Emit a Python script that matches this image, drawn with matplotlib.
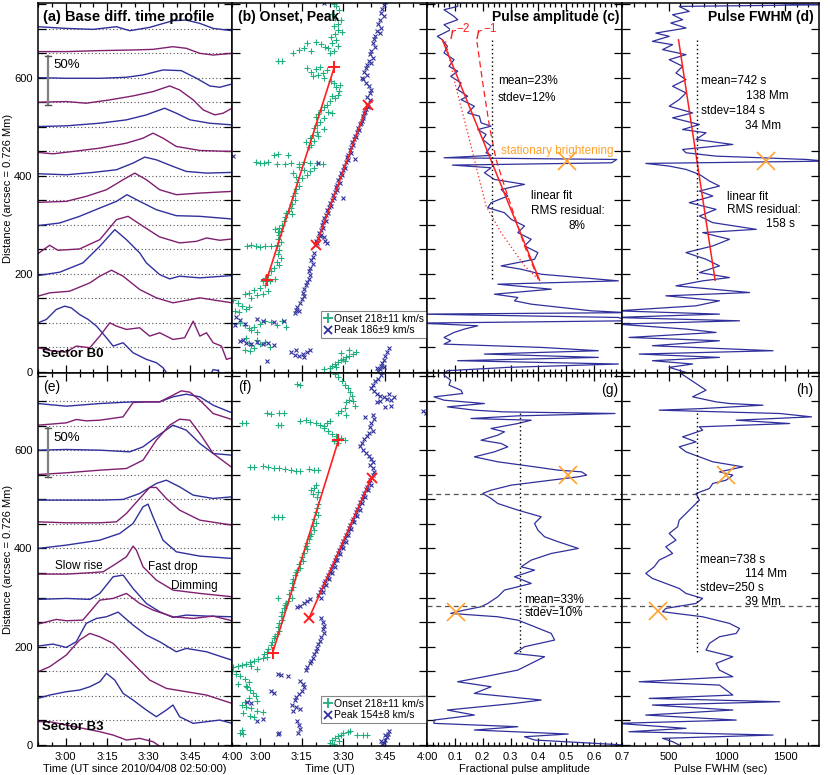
import numpy as np
import matplotlib
matplotlib.use("Agg")
import matplotlib.pyplot as plt
from matplotlib.ticker import MultipleLocator, FixedLocator, FuncFormatter
from matplotlib.lines import Line2D

plt.rcParams['font.family'] = ['Liberation Sans', 'DejaVu Sans']

BLUE = "#30309c"
PURPLE = "#801e70"
GREEN = "#1fae7c"
ORANGE = "#ffa22e"
RED = "#ff1e1e"

# ---- (a) base difference profiles, sector B0: (minutes since 02:50, distance)
a_b700 = [(0, 703.7), (10.2, 700.3), (19.9, 698.3), (28.3, 703.7), (33.1, 695.6), (40.3, 702.4),
          (48.7, 716), (53.5, 717.3), (58.4, 710.5), (63.2, 700.3), (70, 695.6)]
a_p650 = [(0, 653), (10.2, 653), (22.3, 655), (34.3, 656.3), (41.5, 657.6), (48.7, 663),
          (53.5, 659.7), (58.4, 649.5), (63.2, 646), (70, 649.5)]
a_b600 = [(0, 600), (10.2, 598.6), (22.3, 598.6), (31.9, 600.7), (37.9, 605.4), (45.1, 615.6),
          (51.7, 614.2), (57.2, 598.6), (62, 583), (65.6, 580.3), (70, 587)]
a_p550 = [(0, 549.8), (10.2, 551.2), (17.4, 547.8), (25.9, 554.6), (34.3, 562.7), (41.5, 571.5),
          (47.5, 583), (51.1, 574.9), (56, 554.6), (59.6, 534.2), (63.8, 524), (66.8, 527.5), (70, 537.6)]
a_b500 = [(0, 500.3), (10.2, 501.7), (22.3, 507.1), (31.9, 513.9), (39.1, 524), (45.7, 537.6),
          (49.9, 527.5), (54.8, 514), (62, 507), (70, 503.7)]
a_p450 = [(0, 447.5), (5.4, 444.7), (12.6, 449.5), (22.3, 456.3), (31.9, 466.4), (37.9, 476.6),
          (41.5, 486.8), (45.1, 476.6), (49.9, 459.7), (58.4, 451.5), (70, 449.5)]
a_b400 = [(0, 404.1), (10.2, 402), (19.9, 406.8), (28.3, 412.2), (34.3, 425.8), (38.5, 438),
          (42.7, 432.5), (48.7, 419), (53.5, 408.8), (60.8, 405.4), (70, 406.8)]
a_p350 = [(0, 345.8), (10.2, 347.8), (17.4, 358), (24.7, 371.5), (30.7, 391.9), (34.9, 405.4),
          (39.1, 391.9), (43.9, 371.5), (49.9, 361.4), (58.4, 364.7), (70, 368.1)]
a_b300 = [(0, 298.3), (7.8, 303.7), (15, 317.3), (22.3, 334.2), (28.3, 347.8), (32.1, 361.4),
          (36.7, 347.8), (42.7, 330.8), (49.9, 318.6), (58.4, 317.3), (70, 311.9)]
a_p250 = [(0, 241.4), (4.2, 258.3), (7.2, 248.1), (15, 250.8), (22.3, 269.8), (28.3, 310.5),
          (32.5, 317.3), (37.9, 297), (43.9, 275.3), (51.1, 263.1), (57.2, 266.4), (60.8, 273.2),
          (65.6, 268.5), (70, 271.2)]
a_b200 = [(0, 196.6), (7.8, 203.4), (16.2, 222.4), (22.3, 256.3), (27.7, 290.2), (31.9, 269.8),
          (36.7, 242.7), (39.1, 222.4), (43.9, 198.6), (47.5, 189.8), (51.1, 195.3), (58.4, 191.9), (70, 196.6)]
a_p150 = [(0, 154.6), (4.2, 161.4), (11.4, 164.7), (18.7, 181.7), (22.3, 195.3), (26.5, 207.5),
          (30.7, 195.3), (36.7, 168.1), (42.7, 151.2), (48.7, 141), (58.4, 151.2), (70, 141)]
a_b100 = [(0, 100.3), (3, 107.1), (6.6, 127.5), (9.6, 134.2), (12, 130.8), (15, 117.3), (18.1, 107.1),
          (21.1, 93.6), (24.7, 69.8), (27.1, 52.9), (30.7, 59.7), (34.3, 39.3), (39.1, 25.8), (42.7, 19),
          (45.1, 8.8), (48.7, -20), (60.8, -20), (63.2, 5), (65, 3), (66.8, -20)]
a_p50 = [(0, 49.5), (5.4, 42.7), (10.2, 40.7), (13.8, 52.9), (18.7, 49.5), (22.3, 73.2), (25.9, 100.3),
         (28.3, 93.6), (31.9, 86.8), (36.7, 90.2), (40.3, 73.2), (43.9, 80), (48.7, 66.4), (52.9, 69.8),
         (56, 103.7), (58.4, 73.2), (60.8, 80), (63.2, 59.7), (66.2, 52.9), (68, 25.8), (70, 29.2)]

# ---- (e) base difference profiles, sector B3
e_b700 = [(0, 694.9), (10.2, 689.5), (22.3, 694.9), (34.3, 698.3), (43.9, 698.3), (48.7, 708.5),
          (53.5, 713.9), (58.4, 708.5), (63.2, 691.5), (70, 675.9)]
e_p650 = [(0, 650.8), (10.2, 655.6), (13.8, 662.4), (17.4, 659.7), (22.3, 661), (30.7, 667.8),
          (34.3, 696.9), (39.1, 698.3), (43.9, 698.3), (48.7, 711.9), (51.7, 720.7), (54.8, 718),
          (58.4, 701.7), (63.2, 674.6), (70, 662.4)]
e_b600 = [(0, 600), (10.2, 601.4), (22.3, 600), (33.1, 596.6), (37.9, 606.8), (42.7, 627.1),
          (48.7, 650.8), (53.5, 640.7), (58.4, 613.6), (63.2, 593.2), (70, 589.8)]
e_p550 = [(0, 550.5), (10.2, 553.9), (22.3, 559.3), (31.9, 562.7), (37.9, 579.7), (42.7, 620.3),
          (47.5, 650.8), (51.1, 663.1), (54.8, 661), (58.4, 633.9), (63.2, 593.2), (70, 564.7)]
e_b500 = [(0, 498.3), (10.2, 498.3), (22.3, 498.3), (30.7, 499.7), (36.7, 511.9), (42.7, 532.2),
          (46.3, 539), (51.1, 525.4), (56, 508.5), (63.2, 501.7), (70, 505.1)]
e_p450 = [(0, 454.2), (10.2, 452.2), (22.3, 452.2), (28.3, 454.2), (31.9, 471.2), (36.7, 501.7),
          (40.3, 524.1), (42.7, 524.1), (46.3, 501.7), (51.1, 478), (58.4, 457.6), (70, 447.5)]
e_b400 = [(0, 400), (10.2, 406.8), (22.3, 416.9), (29.5, 430.5), (34.3, 450.8), (37.9, 484.7),
          (39.7, 490.2), (41.5, 464.4), (45.1, 416.9), (49.9, 393.2), (58.4, 384.4), (70, 379.7)]
e_p350 = [(0, 347.8), (10.2, 347.8), (18.7, 350.5), (23.5, 352.5), (28.3, 369.5), (31.9, 383.1),
          (34.3, 404.7), (35.5, 396.6), (37.9, 362.7), (42.7, 335.6), (48.7, 315.3), (58.4, 308.5), (70, 301.7)]
e_b300 = [(0, 296.3), (10.2, 298.3), (18.7, 296.3), (22.3, 308.5), (27.1, 342.4), (30.7, 345.8),
          (34.3, 318.6), (39.1, 288.1), (43.9, 271.2), (48.7, 259.7), (53.5, 264.4), (60.8, 262.4), (70, 261)]
e_p250 = [(0, 246.1), (6.6, 255.6), (10.2, 252.9), (16.2, 254.2), (22.3, 294.9), (27.1, 298.3),
          (31.9, 308.5), (36.7, 288.1), (41.5, 274.6), (48.7, 261), (56, 257.6), (63.2, 262.4), (70, 252.9)]
e_b200 = [(0, 201.4), (5.4, 205.4), (10.2, 198.6), (13.8, 210.2), (17.4, 247.5), (21.1, 257.6),
          (24.7, 261), (28.9, 270.5), (34.3, 244.1), (39.1, 223.7), (43.9, 210.2), (49.9, 189.8),
          (53.5, 196.6), (60.8, 189.8), (68, 176.3), (70, 172.9)]
e_p150 = [(0, 149.2), (4.2, 159.3), (10.2, 183.1), (15, 213.6), (18.7, 227.1), (22.3, 220.3),
          (27.1, 206.8), (30.7, 186.4), (35.5, 159.3), (40.3, 132.2), (46.3, 115.3), (53.5, 108.5),
          (60.8, 101.7), (70, 84.7)]
e_b100 = [(0, 94.9), (4.2, 101.7), (10.2, 108.5), (15, 111.9), (18.7, 118.6), (22.3, 128.8),
          (24.7, 145.8), (27.7, 132.2), (30.7, 105.1), (34.3, 91.5), (39.1, 71.2), (42.7, 57.6),
          (46.3, 71.2), (48.7, 81.4), (51.1, 57.6), (56, 44.1), (60.8, 47.5), (65.6, 50.8), (70, 44.1)]
e_p50 = [(0, 47.5), (4.2, 47.5), (10.2, 40.7), (16.2, 33.9), (22.3, 27.1), (27.1, 20.3),
         (31.9, 10.2), (36.7, 13.6), (41.5, 6.8), (45.1, -6.8)]

# ---- (b) onset (+) and peak (x) positions: (minutes since 02:50, distance)
b_onset = [(36.5, 750), (37.5, 745), (38.5, 738), (36, 730), (37, 722), (39, 718), (38, 710), (36.5, 705),
           (38, 698), (39.5, 692), (37, 688), (35.5, 682), (37.5, 676), (36, 670), (38, 665), (34.5, 660),
           (36.5, 655), (35, 650), (33.5, 663), (32, 668), (24, 657), (26, 660), (28.5, 655), (22, 650),
           (16.5, 634), (18, 633), (26.8, 670), (30, 672), (27, 620), (28.5, 612), (30, 617), (31, 605),
           (32.5, 610), (33, 600), (34, 615), (29, 603), (31.5, 622), (35.5, 594), (36.5, 588), (37.5, 580),
           (38.5, 572), (38, 565), (37, 558), (36, 562), (38.8, 585), (35, 552), (34, 545), (33, 540),
           (32, 535), (34.5, 530), (31, 525), (30, 520), (36, 528), (33, 518), (31.5, 510), (30.5, 503),
           (29.5, 497), (30.5, 490), (29, 484), (28, 476), (29.5, 470), (28.5, 463), (27.5, 458), (31, 480),
           (33, 495), (26.5, 468), (8.5, 427), (10, 426), (11.5, 425), (13, 428), (16, 424), (19, 423),
           (21, 426), (24, 424), (26, 427), (28, 425), (30.5, 426), (32.5, 424), (15, 443), (16.5, 444),
           (20, 442), (24, 418), (26, 412), (28, 410), (27, 402), (25, 395), (23, 398), (22, 405),
           (29.5, 415), (23.5, 388), (24, 380), (23, 372), (22.5, 365), (22, 358), (22.5, 350), (21.5, 342),
           (21, 335), (20.5, 328), (21.5, 322), (19.5, 325), (19, 315), (18.5, 308), (18, 300), (17, 294),
           (17.5, 288), (16.5, 285), (15.5, 292), (5.5, 256), (7, 258), (8.5, 257), (10, 255), (12, 257),
           (14, 256), (16, 258), (17, 280), (16.5, 272), (17.5, 264), (16, 256), (17, 248), (16.5, 240),
           (17.5, 232), (16, 225), (17, 218), (15, 212), (14, 205), (13, 198), (12, 192), (11, 186),
           (15.5, 190), (13.5, 185), (12, 178), (10, 172), (8, 168), (6, 162), (4.5, 158), (9, 156),
           (11, 160), (7, 150), (13, 165), (0.5, 146), (2, 140), (3.5, 135), (5, 128), (1, 125), (6, 132),
           (2.5, 122), (3, 100), (4.5, 95), (6, 90), (8, 92), (10, 98), (12, 104), (14, 102), (16, 96),
           (18, 104), (19.5, 92), (7, 85), (9, 82), (5, 70), (6, 60), (7, 55), (8, 48), (9, 65), (10, 58),
           (12, 62), (13.5, 50), (4.5, 45), (6.5, 42), (35, 8), (36, 12), (37, 16), (38, 20), (39, 24),
           (40, 27), (41, 30), (42, 33), (43.5, 36), (44.5, 40), (37.5, 10), (40.5, 22), (42, 45), (39, 38),
           (33, 6)]
b_peak = [(55, 755), (54.5, 748), (54, 740), (53.5, 732), (54.5, 725), (53, 718), (52.5, 710), (53.5, 702),
          (52, 695), (53, 690), (56, 760), (51.5, 685), (51, 678), (50.5, 670), (51.5, 662), (50, 655),
          (49.5, 648), (50.5, 640), (49, 633), (48.5, 626), (50, 630), (48, 620), (47.5, 612), (48.5, 605),
          (47, 598), (48, 590), (49, 582), (50, 575), (49.5, 568), (48.5, 560), (49.5, 555), (46.5, 600),
          (48.5, 545), (48.2, 536), (47.4, 528), (47.1, 517), (46.6, 512), (45.8, 505), (45.6, 494),
          (44.8, 489), (44.6, 478), (43.8, 474), (43.6, 463), (42.8, 458), (42.6, 447), (41.8, 443),
          (41.6, 432), (40.8, 428), (40.6, 416), (39.8, 412), (39.6, 401), (38.8, 397), (38.6, 386),
          (37.8, 382), (37.6, 370), (36.8, 366), (36.6, 355), (35.8, 351), (35.6, 339), (34.8, 336),
          (34.6, 324), (33.8, 320), (33.6, 308), (32.8, 305), (32.6, 293), (31.8, 289), (31.6, 278),
          (30.8, 274), (30.6, 262), (29.8, 258), (48.9, 540), (47.9, 530), (46.9, 522), (46.2, 508),
          (45.2, 498), (44.2, 482), (43.2, 468), (42.2, 452), (41.2, 438), (40.2, 420), (39.2, 406),
          (38.2, 392), (37.2, 377), (36.2, 360), (35.2, 344), (34.2, 330), (33.2, 314), (32.2, 300),
          (31.2, 284), (30.2, 268), (44.1, 434), (40, 355), (31, 426), (32, 280), (33, 275), (33.5, 268),
          (34, 262), (29.5, 243), (29, 235), (28.5, 228), (29, 220), (28, 212), (27.5, 205), (28, 198),
          (27.5, 190), (27, 184), (26.5, 178), (26, 170), (25.5, 162), (26, 155), (25, 148), (24.5, 140),
          (23.5, 132), (23, 126), (22.5, 121), (24, 124), (1.5, 112), (3, 106), (4.5, 98), (1, 95),
          (9, 108), (11, 104), (15, 102), (18.5, 105), (3, 64), (5, 60), (7, 58), (9, 62), (11, 57),
          (13, 60), (15, 55), (4, 66), (21, 40), (22.5, 35), (24, 32), (25.5, 36), (27, 40), (28, 44),
          (23, 45), (26, 30), (12.5, 23), (56.5, 48), (55.5, 40), (55, 32), (54.5, 25), (54, 18),
          (53.5, 12), (53, 6), (52.5, 2), (52, 8), (54.5, 10), (0.3, 440), (33, 752)]
b_fit_onset_t, b_fit_onset_d = [12.4, 36.7], [187, 621]
b_fit_peak_t, b_fit_peak_d = [30.1, 48.7], [258, 545]
b_labels = ["Onset 218\u00b111 km/s", "Peak 186\u00b19 km/s"]

# ---- (f) onset and peak positions, sector B3
f_onset = [(23.5, 735), (24.5, 732), (37, 755), (38, 748), (39.5, 740), (40.5, 733), (41.5, 726), (42.5, 718),
           (43, 710), (42, 703), (41, 697), (43.5, 700), (44, 690), (40.5, 685), (39, 680), (38, 675),
           (41, 672), (12.5, 675), (14, 674), (17, 675), (18.5, 676), (3.5, 655), (5, 655), (16.5, 651),
           (17.5, 651), (24.5, 660), (26.5, 662), (28, 658), (30, 655), (31.5, 652), (33, 650), (34, 655),
           (35, 660), (33, 645), (34.5, 640), (36, 632), (37.5, 628), (39, 624), (40.5, 620), (38, 615),
           (36.5, 618), (6.5, 566), (8, 565), (11, 567), (13, 566), (15, 564), (17, 563), (19, 561),
           (21, 560), (23, 558), (24.5, 557), (27.5, 562), (29.5, 560), (31, 560), (30, 530), (29.5, 522),
           (31, 515), (29, 510), (30.5, 505), (28.5, 518), (31, 490), (30.5, 482), (30, 475), (31, 468),
           (29.5, 460), (30, 452), (29, 445), (29.5, 438), (28.5, 430), (28, 425), (15, 465), (16.5, 464),
           (18, 463), (27.5, 420), (27, 412), (26.5, 405), (27, 398), (26, 390), (25, 382), (25.5, 375),
           (24, 368), (24.5, 360), (23.5, 357), (23, 352), (22.5, 345), (22, 338), (21.5, 330), (22, 322),
           (21, 315), (20.5, 308), (21.5, 300), (20, 294), (19.5, 290), (16.5, 300), (19, 285), (18.5, 278),
           (18, 270), (17.5, 262), (18, 255), (17, 248), (16.5, 240), (17, 232), (16, 225), (15.5, 222),
           (15, 218), (14.5, 210), (14, 203), (13, 196), (12.5, 190), (11.5, 186), (12.5, 180), (11, 178),
           (9.5, 175), (8, 172), (6.5, 168), (5, 165), (3.5, 162), (2, 160), (0.5, 158), (7, 160), (9, 155),
           (0, 150), (1.5, 145), (3, 140), (4.5, 135), (6, 128), (2, 125), (5, 120), (5.5, 118), (6.5, 112),
           (7.5, 105), (8.5, 100), (6, 95), (9, 90), (4.5, 88), (3.5, 82), (5, 78), (7, 75), (9, 70),
           (11, 68), (4, 65), (6.5, 60), (8, 58), (3, 25), (4, 22), (3.5, 30), (35, 5), (36, 10), (37, 14),
           (38, 18), (39, 21), (40, 24), (41.5, 26), (42.5, 28), (36.5, 3), (38.5, 8), (45, 20), (47, 21),
           (48.5, 20)]
f_peak = [(54, 760), (53.5, 752), (52.5, 745), (51.5, 740), (50.5, 733), (50, 726), (51, 720), (52, 714),
          (53, 710), (54.5, 708), (55.5, 705), (53, 700), (52, 697), (56.5, 715), (57, 703), (58, 708),
          (57, 690), (55, 688), (68.5, 680), (69.5, 676), (70.5, 672), (47.7, 668), (50.5, 672), (51, 664),
          (50, 656), (49.5, 648), (50.5, 640), (49, 634), (48.5, 628), (47.5, 622), (46.5, 615), (46, 608),
          (47, 600), (48, 594), (49, 588), (50, 582), (50.5, 575), (49.5, 570), (50.5, 563), (51, 556),
          (50.5, 549), (50, 545), (49.5, 540), (49, 533), (48.5, 526), (48, 520), (47.5, 513), (47, 506),
          (46.5, 500), (46, 494), (45.5, 487), (45, 481), (44.5, 474), (44, 468), (43.5, 460), (43, 455),
          (42.5, 448), (42, 441), (41.5, 435), (41, 428), (40.5, 422), (40, 415), (39.5, 410), (39, 403),
          (38.5, 396), (38, 390), (37.5, 383), (37, 377), (36.5, 370), (36, 365), (35.5, 358), (35, 352),
          (34.5, 346), (34, 340), (33.5, 334), (33, 329), (32.5, 322), (32, 318), (31.5, 312), (31, 306),
          (49.8, 530), (48.8, 518), (47.8, 505), (46.8, 492), (45.8, 479), (44.8, 466), (43.8, 453),
          (42.8, 440), (41.8, 427), (40.8, 414), (39.8, 401), (38.8, 388), (37.8, 376), (36.8, 363),
          (35.8, 350), (34.8, 338), (33.8, 325), (32.8, 312), (31.8, 300), (23.5, 281), (24.5, 283),
          (26, 288), (27, 293), (28, 297), (32, 258), (32.5, 250), (33, 243), (32.5, 236), (33, 228),
          (32, 220), (31.5, 212), (31, 205), (30.5, 198), (30, 192), (29.5, 185), (29, 178), (28.5, 172),
          (28, 166), (27, 158), (26.5, 152), (16.5, 145), (17.5, 142), (20, 140), (24.5, 130), (25.5, 124),
          (26, 118), (25, 110), (24, 104), (23, 98), (22.5, 92), (14, 110), (15, 105), (21.5, 82), (23, 78),
          (24.5, 74), (22, 70), (23.5, 48), (24, 40), (24.5, 32), (23.8, 25), (5.5, 88), (7, 86), (11, 52),
          (17, 25), (9, 48), (16.5, 22), (56.5, 28), (56, 22), (55.5, 16), (55, 10), (54.5, 5), (54, 2),
          (53.5, 8), (55, 20)]
f_fit_onset_t, f_fit_onset_d = [14.6, 38.2], [187.8, 620]
f_fit_peak_t, f_fit_peak_d = [27.6, 50.1], [257.6, 544]
f_labels = ["Onset 218\u00b111 km/s", "Peak 154\u00b18 km/s"]

# ---- (c) pulse amplitude vs distance: (distance, fraction)
c_prof = [(758.6, 0.110), (745.1, 0.110), (738.3, 0.061), (724.7, 0.097), (718.0, 0.110), (707.8, 0.061),
          (697.6, 0.085), (684.1, 0.037), (677.3, 0.055), (663.7, 0.073), (650.2, 0.061), (636.6, 0.097),
          (623.1, 0.079), (612.9, 0.110), (602.7, 0.085), (589.2, 0.122), (575.6, 0.110), (562.0, 0.146),
          (555.3, 0.122), (541.7, 0.170), (528.1, 0.146), (521.4, 0.188), (507.8, 0.194), (501.0, 0.230),
          (494.2, 0.182), (484.1, 0.212), (473.9, 0.200), (460.3, 0.230), (446.8, 0.212), (441.4, 0.230),
          (436.6, 0.061), (433.2, 0.681), (426.4, 0.663), (421.7, 0.091), (416.3, 0.230), (406.1, 0.206),
          (392.5, 0.242), (382.4, 0.350), (372.2, 0.266), (358.6, 0.290), (345.1, 0.230), (334.9, 0.218),
          (324.7, 0.278), (311.2, 0.302), (297.6, 0.350), (284.1, 0.326), (270.5, 0.374), (257.0, 0.350),
          (243.4, 0.398), (229.8, 0.386), (216.3, 0.266), (209.5, 0.338), (199.3, 0.410), (185.8, 0.687),
          (179.0, 0.254), (168.8, 0.446), (158.6, 0.242), (151.9, 0.326), (145.1, 0.314), (138.3, 0.374),
          (124.7, 0.591), (121.0, 0.720), (118.0, -0.020), (111.2, 0.687), (104.4, 0.720), (99.7, -0.020),
          (94.2, 0.182), (87.5, 0.134), (80.7, 0.097), (70.5, 0.061), (63.7, 0.085), (56.9, 0.061),
          (50.2, 0.410), (43.4, 0.615), (36.6, 0.206), (29.8, 0.615), (23.1, 0.110), (16.3, 0.687),
          (9.5, 0.290), (2.7, 0.073), (-4.0, 0.061)]
c_fit_amp, c_fit_d = [0.055, 0.404], [677, 187]
c_r1 = [(673.9, 0.179), (589.2, 0.200), (501.0, 0.224), (433.2, 0.248), (379.0, 0.278),
        (317.9, 0.314), (256.9, 0.350), (189.0, 0.400)]
c_r2 = [(673.9, 0.067), (582.4, 0.103), (487.5, 0.146), (406.1, 0.182), (338.3, 0.212),
        (284.1, 0.266), (216.3, 0.350), (189.0, 0.400)]
c_mean, c_mean_d = 0.233, [677, 187]
c_bright = (0.504, 430)

# ---- (d) pulse FWHM vs distance: (distance, seconds)
d_prof = [(755.3, 792), (748.5, 1850), (745.1, 591), (734.9, 677), (728.1, 534), (718.0, 620), (711.2, 519),
          (701.0, 649), (690.8, 390), (684.1, 505), (673.9, 361), (667.1, 534), (657.0, 448), (646.8, 649),
          (636.6, 505), (623.1, 620), (609.5, 563), (595.9, 649), (582.4, 534), (568.8, 649), (555.3, 591),
          (541.7, 505), (528.1, 706), (518.0, 534), (504.4, 764), (494.2, 620), (487.5, 821), (473.9, 735),
          (463.7, 1051), (453.6, 620), (446.8, 649), (440.0, 907), (433.2, 1683), (429.8, 1850), (425.1, 304),
          (419.7, 505), (412.9, 649), (402.7, 764), (389.2, 850), (379.0, 936), (368.8, 764), (358.6, 879),
          (345.1, 677), (331.5, 907), (317.9, 764), (304.4, 879), (290.8, 1252), (284.1, 792), (270.5, 1022),
          (257.0, 879), (243.4, 649), (229.8, 821), (216.3, 936), (202.7, 764), (192.5, 1022), (185.8, 792),
          (175.6, 563), (162.0, 1195), (155.3, 476), (145.1, 936), (134.9, 735), (124.7, 60), (118.0, 936),
          (111.2, 40), (104.4, 1108), (97.6, 60), (87.5, 649), (80.7, 907), (70.5, 160), (63.7, 936),
          (53.6, 361), (43.4, 1396), (36.6, 247), (29.8, 936), (23.1, 361), (16.3, 706), (9.5, 505), (-0.7, 649)]
d_fit_fwhm, d_fit_d = [585, 899], [677, 187]
d_mean, d_mean_d = 741, [677, 187]
d_bright = (1338, 430)

# ---- (g) pulse amplitude, sector B3
g_prof = [(762.7, 0.067), (752.5, 0.061), (742.4, 0.085), (732.2, 0.079), (722.0, 0.122), (715.3, 0.128),
          (708.5, 0.025), (701.7, 0.061), (694.9, 0.206), (688.1, 0.073), (681.4, 0.170), (678.0, 0.272),
          (674.6, 0.675), (669.8, 0.326), (664.4, 0.158), (661.0, 0.374), (654.2, 0.326), (644.1, 0.230),
          (637.3, 0.278), (630.5, 0.254), (620.3, 0.194), (613.6, 0.266), (606.8, 0.290), (596.6, 0.242),
          (586.4, 0.170), (576.3, 0.254), (566.1, 0.386), (559.3, 0.471), (555.9, 0.555), (549.2, 0.573),
          (545.8, 0.543), (539.0, 0.446), (528.8, 0.302), (518.6, 0.230), (511.9, 0.200), (501.7, 0.230),
          (491.5, 0.254), (478.0, 0.326), (464.4, 0.410), (450.8, 0.386), (437.3, 0.398), (423.7, 0.422),
          (413.6, 0.471), (400.0, 0.543), (389.8, 0.446), (376.3, 0.374), (362.7, 0.338), (355.9, 0.386),
          (342.4, 0.314), (328.8, 0.374), (315.3, 0.278), (301.7, 0.254), (288.1, 0.218), (281.4, 0.194),
          (274.6, 0.134), (267.8, 0.085), (261.0, 0.254), (254.2, 0.326), (240.7, 0.386), (227.1, 0.446),
          (213.6, 0.458), (200.0, 0.350), (186.4, 0.314), (179.7, 0.422), (166.1, 0.374), (152.5, 0.326),
          (139.0, 0.206), (128.8, 0.110), (118.6, 0.230), (105.1, 0.170), (91.5, 0.410), (84.7, 0.314),
          (71.2, 0.073), (61.0, 0.170), (50.8, 0.025), (44.1, 0.025), (37.3, 0.326), (30.5, 0.170),
          (22.4, 0.507), (16.9, 0.350), (10.2, 0.386), (0.0, 0.711)]
g_mean, g_mean_d = 0.332, [675, 190]
g_marks = [(0.507, 549), (0.103, 271)]
bound_d = [510.5, 282.7]

# ---- (h) pulse FWHM, sector B3
h_prof = [(762.7, 563), (749.2, 649), (735.6, 735), (722.0, 821), (708.5, 706), (698.3, 907), (694.9, 1022),
          (691.5, 1310), (684.7, 792), (681.4, 419), (674.6, 1453), (667.8, 1726), (661.0, 1080), (654.2, 1539),
          (647.5, 764), (640.7, 792), (627.1, 620), (616.9, 735), (606.8, 591), (596.6, 649), (586.4, 764),
          (576.3, 879), (566.1, 1137), (555.9, 936), (549.2, 1051), (539.0, 994), (532.2, 879), (522.0, 850),
          (511.9, 735), (498.3, 764), (484.7, 706), (471.2, 649), (457.6, 591), (444.1, 577), (430.5, 505),
          (416.9, 563), (403.4, 476), (389.8, 534), (376.3, 419), (362.7, 376), (349.2, 304), (339.0, 361),
          (328.8, 476), (318.6, 591), (308.5, 649), (298.3, 792), (288.1, 735), (278.0, 476), (271.2, 448),
          (261.0, 792), (247.5, 1022), (237.3, 1108), (227.1, 1080), (220.3, 936), (206.8, 850), (193.2, 821),
          (179.7, 1051), (166.1, 907), (152.5, 936), (139.0, 1051), (128.8, 247), (122.0, 936), (111.9, 994),
          (101.7, 1051), (94.9, 333), (88.1, 1453), (81.4, 361), (71.2, 1051), (61.0, 304), (50.8, 1080),
          (44.1, 60), (33.9, 649), (27.1, 160), (20.3, 1396), (13.6, 448), (6.8, 534), (0.0, 591)]
h_mean, h_mean_d = 741, [675, 186]
h_marks = [(993, 549), (405, 273)]


def time_label(t, pos):
    m = int(round(t)) + 50
    return "%d:%02d" % (2 + m // 60, m % 60)


def frame(ax, ylim, xlab):
    ax.set_ylim(*ylim)
    ax.yaxis.set_major_locator(MultipleLocator(200))
    ax.yaxis.set_minor_locator(MultipleLocator(50))
    ax.tick_params(which='both', direction='in', top=True, right=True,
                   labelsize=8, width=0.9, pad=4)
    ax.tick_params(axis='y', which='both', length=6)
    ax.tick_params(axis='x', which='major', length=6)
    ax.tick_params(axis='x', which='minor', length=3)
    ax.tick_params(labelleft=False, labelbottom=xlab)
    for s in ax.spines.values():
        s.set_linewidth(1.1)


def time_axis(ax):
    ax.set_xlim(0, 70)
    ax.xaxis.set_major_locator(FixedLocator([10, 25, 40, 55, 70]))
    ax.xaxis.set_minor_locator(MultipleLocator(5))
    ax.xaxis.set_major_formatter(FuncFormatter(time_label))


def amp_axis(ax):
    ax.set_xlim(0, 0.7)
    ax.xaxis.set_major_locator(FixedLocator([0.1, 0.2, 0.3, 0.4, 0.5, 0.6, 0.7]))
    ax.xaxis.set_minor_locator(MultipleLocator(0.02))
    ax.xaxis.set_major_formatter(FuncFormatter(lambda v, p: "%.1f" % v))


def fwhm_axis(ax):
    ax.set_xlim(100, 1790)
    ax.xaxis.set_major_locator(FixedLocator([500, 1000, 1500]))
    ax.xaxis.set_minor_locator(MultipleLocator(100))


def profiles(ax, curves, sector, title, ylim, xlab):
    for y in range(50, 701, 50):
        ax.axhline(y, color="#555555", ls=(0, (1, 2.2)), lw=0.8, zorder=1)
    for k, c in enumerate(curves):
        t, d = np.array(c).T
        ax.plot(t, d, color=BLUE if k % 2 == 0 else PURPLE, lw=1.0, zorder=2)
    time_axis(ax)
    frame(ax, ylim, xlab)
    ax.tick_params(labelleft=True)
    ax.set_ylabel("Distance (arcsec = 0.726 Mm)", fontsize=8, labelpad=1)
    # 50% scale bar
    ax.plot([3.6, 3.6], [545, 645], color="#808080", lw=1.6)
    ax.plot([2.4, 4.8], [545, 545], color="#555555", lw=1)
    ax.plot([2.4, 4.8], [645, 645], color="#555555", lw=1)
    ax.text(5.6, 625, "50%", fontsize=9.5, va='center')
    ax.text(0.02, 0.035, sector, transform=ax.transAxes, fontsize=9.5,
            fontweight='bold', va='bottom')
    ax.text(0.025, 0.963, title, transform=ax.transAxes,
            fontsize=10.5 if len(title) > 4 else 10,
            fontweight='bold' if len(title) > 4 else 'normal', va='center')


def onset_peak(ax, onset, peak, fon, fpk, labels, title, ylim, xlab, leg_y):
    t, d = np.array(onset).T
    ax.plot(t, d, ls='none', marker='+', ms=4.5, mew=0.8, color=GREEN)
    t, d = np.array(peak).T
    ax.plot(t, d, ls='none', marker='x', ms=3.5, mew=0.8, color=BLUE)
    ax.plot(fon[0], fon[1], color=RED, lw=1.2)
    ax.plot(fon[0], fon[1], ls='none', marker='+', ms=9, mew=1.4, color=RED)
    ax.plot(fpk[0], fpk[1], color=RED, lw=1.2)
    ax.plot(fpk[0], fpk[1], ls='none', marker='x', ms=7, mew=1.4, color=RED)
    time_axis(ax)
    frame(ax, ylim, xlab)
    handles = [Line2D([], [], ls='none', marker='+', ms=7, mew=1.3, color=GREEN),
               Line2D([], [], ls='none', marker='x', ms=5.5, mew=1.3, color=BLUE)]
    leg = ax.legend(handles, labels, loc='lower right', bbox_to_anchor=(1.0, leg_y),
                    fontsize=7.5, fancybox=False, edgecolor='#888888', framealpha=1,
                    handlelength=0.8, handletextpad=0.2, borderpad=0.25,
                    labelspacing=0.15, borderaxespad=0.0)
    leg.get_frame().set_linewidth(0.8)
    ax.text(0.03, 0.963, title, transform=ax.transAxes, fontsize=10,
            fontweight='bold' if len(title) > 4 else 'normal', va='center')


def pulse_line(ax, prof):
    d, v = np.array(prof).T
    ax.plot(v, d, color=BLUE, lw=0.9)


fig = plt.figure(figsize=(8.3, 7.75), dpi=100)
xs = [0.0458, 0.2795, 0.5145, 0.7494, 0.9867]
top_b, top_h = 0.5187, 0.4774
bot_b, bot_h = 0.0374, 0.4813
ylim_top = (-2, 752)
ylim_bot = (-2, 757)
ax_a, ax_b, ax_c, ax_d = [fig.add_axes([xs[i], top_b, xs[i + 1] - xs[i], top_h]) for i in range(4)]
ax_e, ax_f, ax_g, ax_h = [fig.add_axes([xs[i], bot_b, xs[i + 1] - xs[i], bot_h]) for i in range(4)]

# (a), (e)
profiles(ax_a, [a_b700, a_p650, a_b600, a_p550, a_b500, a_p450, a_b400, a_p350,
                a_b300, a_p250, a_b200, a_p150, a_b100, a_p50],
         "Sector B0", "(a) Base diff. time profile", ylim_top, False)
profiles(ax_e, [e_b700, e_p650, e_b600, e_p550, e_b500, e_p450, e_b400, e_p350,
                e_b300, e_p250, e_b200, e_p150, e_b100, e_p50],
         "Sector B3", "(e)", ylim_bot, True)
ax_e.set_xlabel("Time (UT since 2010/04/08 02:50:00)", fontsize=8, labelpad=2)
ax_e.text(6.0, 364, "Slow rise", fontsize=8.5, va='center')
ax_e.text(39.7, 363, "Fast drop", fontsize=8.5, va='center')
ax_e.text(48.1, 323, "Dimming", fontsize=8.5, va='center')

# (b), (f)
onset_peak(ax_b, b_onset, b_peak, (b_fit_onset_t, b_fit_onset_d), (b_fit_peak_t, b_fit_peak_d),
           b_labels, "(b) Onset, Peak", ylim_top, False, 0.095)
onset_peak(ax_f, f_onset, f_peak, (f_fit_onset_t, f_fit_onset_d), (f_fit_peak_t, f_fit_peak_d),
           f_labels, "(f)", ylim_bot, True, 0.062)
ax_f.set_xlabel("Time (UT)", fontsize=8, labelpad=2)

# (c)
pulse_line(ax_c, c_prof)
ax_c.plot(c_fit_amp, c_fit_d, color=RED, lw=1.1)
d, v = np.array(c_r1).T
ax_c.plot(v, d, color=RED, lw=0.9, ls=(0, (5, 3)))
d, v = np.array(c_r2).T
ax_c.plot(v, d, color=RED, lw=0.9, ls=(0, (1, 2)))
ax_c.plot([c_mean, c_mean], c_mean_d, color='black', lw=1, ls=(0, (1, 2)))
ax_c.plot(*c_bright, marker='x', ms=13, mew=1.2, color=ORANGE)
ax_c.text(0.082, 688, "r", color=RED, fontsize=12, va='center', style='italic',
          bbox=dict(facecolor='white', edgecolor='none', pad=0.2))
ax_c.text(0.107, 700, "\u22122", color=RED, fontsize=8.5, va='center')
ax_c.text(0.176, 688, "r", color=RED, fontsize=12, va='center', style='italic',
          bbox=dict(facecolor='white', edgecolor='none', pad=0.2))
ax_c.text(0.201, 700, "\u22121", color=RED, fontsize=8.5, va='center')
ax_c.text(0.254, 593, "mean=23%", fontsize=8.5, va='center')
ax_c.text(0.254, 559, "stdev=12%", fontsize=8.5, va='center')
ax_c.text(0.266, 450, "stationary brightening", fontsize=8.5, color=ORANGE, va='center')
ax_c.text(0.374, 359, "linear fit", fontsize=8.5, va='center')
ax_c.text(0.374, 328, "RMS residual:", fontsize=8.5, va='center')
ax_c.text(0.507, 298, "8%", fontsize=8.5, va='center')
ax_c.text(0.985, 0.963, "Pulse amplitude (c)", transform=ax_c.transAxes, fontsize=10,
          fontweight='bold', ha='right', va='center')
amp_axis(ax_c)
frame(ax_c, ylim_top, False)

# (d)
pulse_line(ax_d, d_prof)
ax_d.plot(d_fit_fwhm, d_fit_d, color=RED, lw=1.1)
ax_d.plot([d_mean, d_mean], d_mean_d, color='black', lw=1, ls=(0, (1, 2)))
ax_d.plot(*d_bright, marker='x', ms=13, mew=1.2, color=ORANGE)
ax_d.text(778, 593, "mean=742 s", fontsize=8.5, va='center')
ax_d.text(1160, 562, "138 Mm", fontsize=8.5, va='center')
ax_d.text(778, 532, "stdev=184 s", fontsize=8.5, va='center')
ax_d.text(1152, 502, "34 Mm", fontsize=8.5, va='center')
ax_d.text(999, 357, "linear fit", fontsize=8.5, va='center')
ax_d.text(999, 330, "RMS residual:", fontsize=8.5, va='center')
ax_d.text(1338, 301, "158 s", fontsize=8.5, va='center')
ax_d.text(0.975, 0.963, "Pulse FWHM (d)", transform=ax_d.transAxes, fontsize=10,
          fontweight='bold', ha='right', va='center')
fwhm_axis(ax_d)
frame(ax_d, ylim_top, False)

# (g)
pulse_line(ax_g, g_prof)
for y in bound_d:
    ax_g.axhline(y, color='#555555', lw=0.9, ls=(0, (4, 3)))
    ax_h.axhline(y, color='#555555', lw=0.9, ls=(0, (4, 3)))
ax_g.plot([g_mean, g_mean], g_mean_d, color='black', lw=1, ls=(0, (1, 2)))
for m in g_marks:
    ax_g.plot(*m, marker='x', ms=13, mew=1.2, color=ORANGE)
ax_g.text(0.350, 295, "mean=33%", fontsize=8.5, va='center')
ax_g.text(0.350, 268, "stdev=10%", fontsize=8.5, va='center')
ax_g.text(0.98, 0.955, "(g)", transform=ax_g.transAxes, fontsize=10, ha='right', va='center')
ax_g.set_xlabel("Fractional pulse amplitude", fontsize=8, labelpad=2)
amp_axis(ax_g)
frame(ax_g, ylim_bot, True)

# (h)
pulse_line(ax_h, h_prof)
ax_h.plot([h_mean, h_mean], h_mean_d, color='black', lw=1, ls=(0, (1, 2)))
for m in h_marks:
    ax_h.plot(*m, marker='x', ms=13, mew=1.2, color=ORANGE)
ax_h.text(772, 376, "mean=738 s", fontsize=8.5, va='center')
ax_h.text(1152, 349, "114 Mm", fontsize=8.5, va='center')
ax_h.text(772, 319, "stdev=250 s", fontsize=8.5, va='center')
ax_h.text(1152, 292, "39 Mm", fontsize=8.5, va='center')
ax_h.text(0.97, 0.955, "(h)", transform=ax_h.transAxes, fontsize=10, ha='right', va='center')
ax_h.set_xlabel("Pulse FWHM (sec)", fontsize=8, labelpad=2)
fwhm_axis(ax_h)
frame(ax_h, ylim_bot, True)

fig.savefig("out.png", dpi=100)
